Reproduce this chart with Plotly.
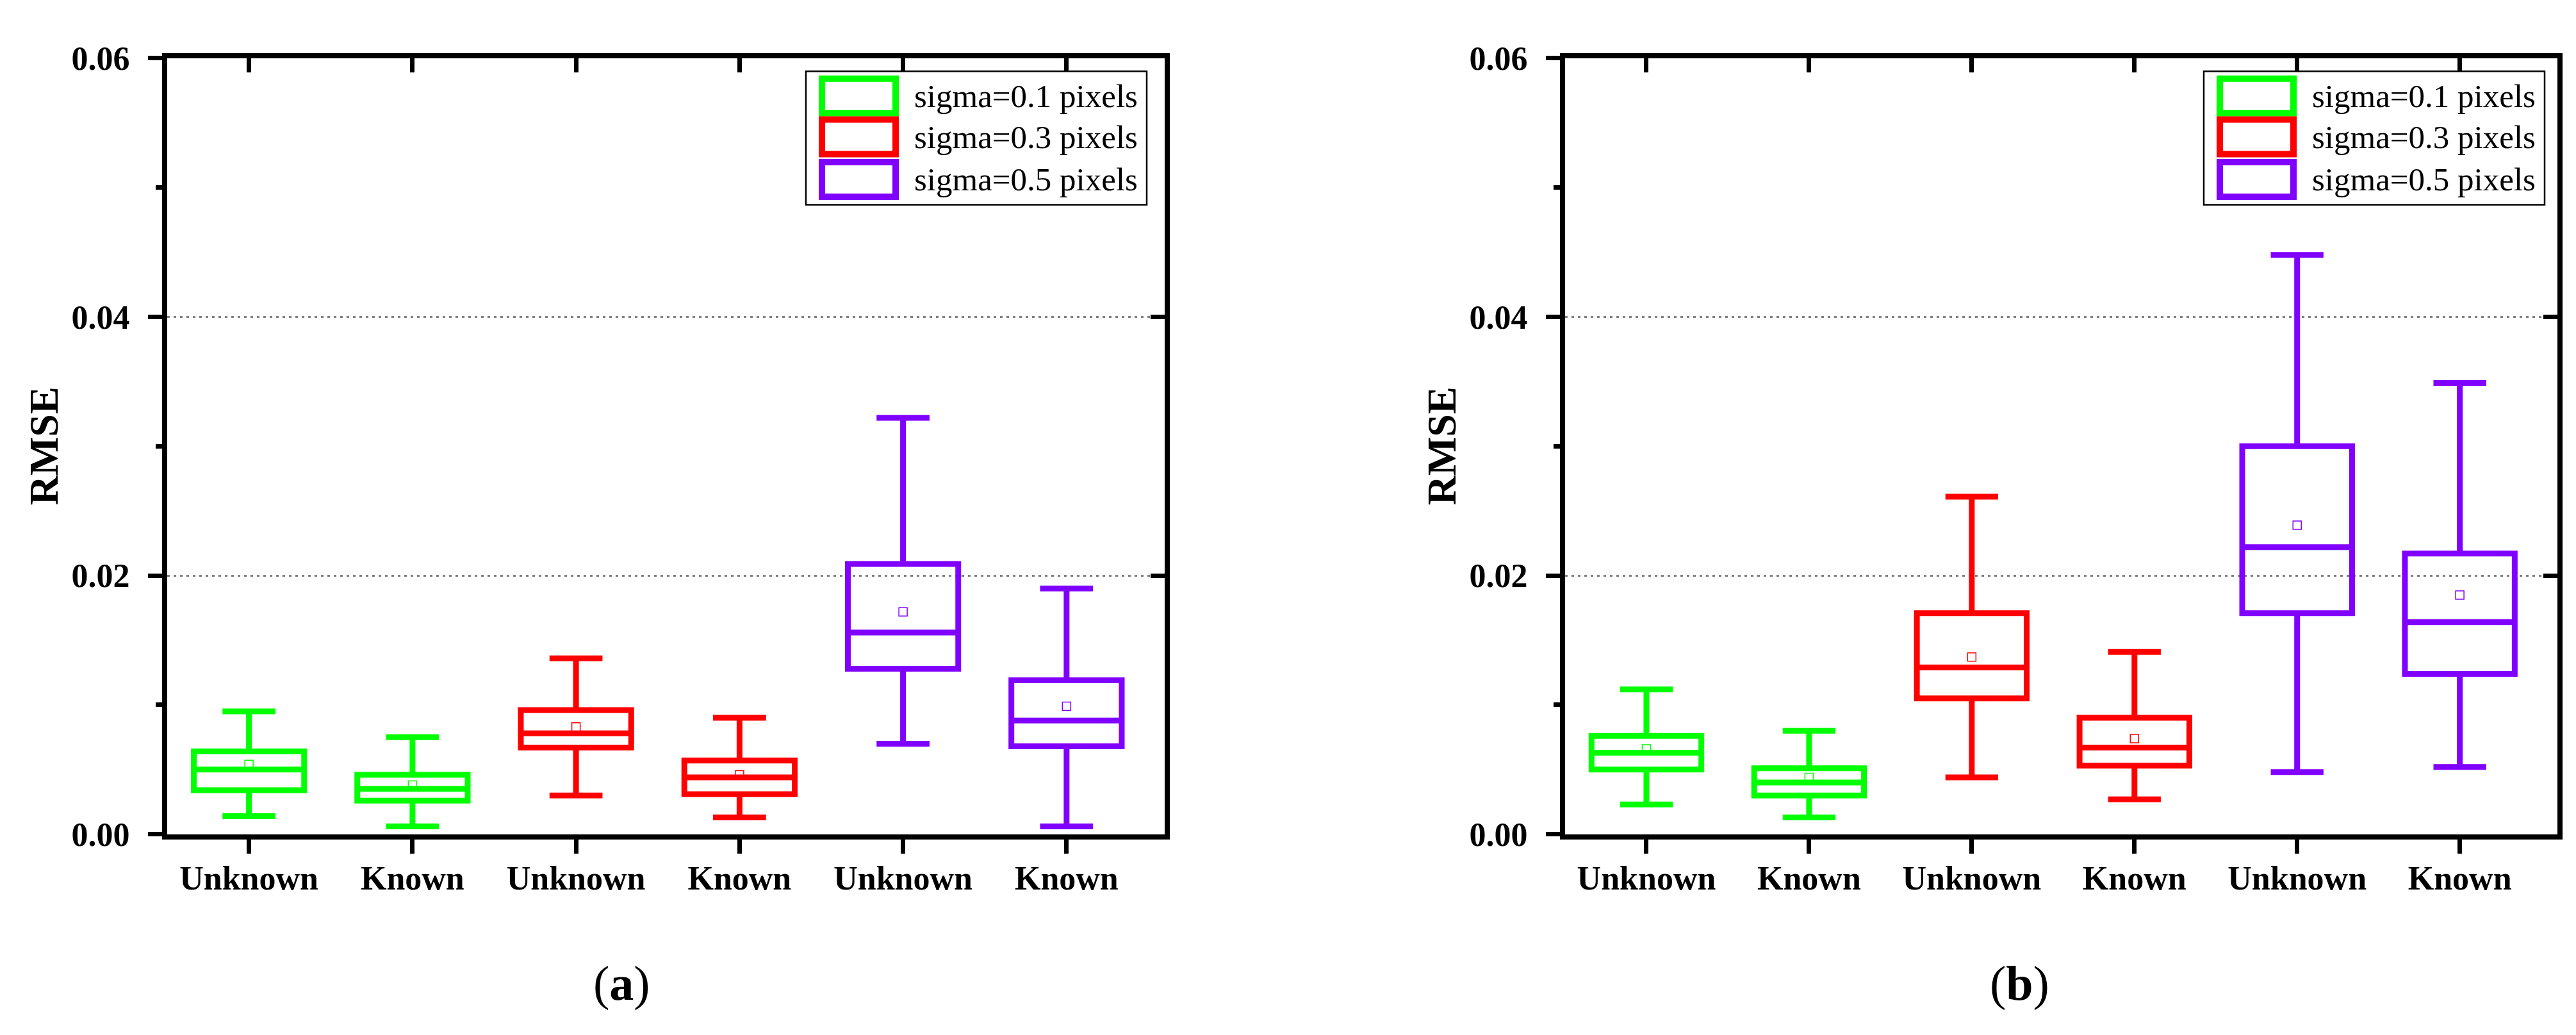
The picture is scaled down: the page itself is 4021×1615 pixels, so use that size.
import plotly.graph_objects as go

# -----------------------------
# data
# -----------------------------
categories = ["Unknown", "Known", "Unknown", "Known", "Unknown", "Known"]
sigma_labels = ["sigma=0.1 pixels", "sigma=0.3 pixels", "sigma=0.5 pixels"]
colors = ["#00FF00", "#FF0000", "#8000FF"]

# panel (a)
a_lower = [0.0014, 0.0006, 0.0030, 0.0013, 0.0070, 0.0006]
a_q1 = [0.0034, 0.0026, 0.0067, 0.0031, 0.0128, 0.0068]
a_median = [0.0050, 0.0035, 0.0078, 0.0044, 0.0156, 0.0088]
a_q3 = [0.0064, 0.0046, 0.0096, 0.0057, 0.0209, 0.0119]
a_upper = [0.0095, 0.0075, 0.0136, 0.0090, 0.0322, 0.0190]
a_mean = [0.0054, 0.0038, 0.0083, 0.0046, 0.0172, 0.0099]

# panel (b)
b_lower = [0.0023, 0.0013, 0.0044, 0.0027, 0.0048, 0.0052]
b_q1 = [0.0050, 0.0030, 0.0105, 0.0053, 0.0171, 0.0124]
b_median = [0.0063, 0.0040, 0.0129, 0.0067, 0.0222, 0.0164]
b_q3 = [0.0076, 0.0051, 0.0171, 0.0090, 0.0300, 0.0217]
b_upper = [0.0112, 0.0080, 0.0261, 0.0141, 0.0448, 0.0349]
b_mean = [0.0066, 0.0044, 0.0137, 0.0074, 0.0239, 0.0185]

y_tickvals = [0.0, 0.02, 0.04, 0.06]
y_ticktext = ["0.00", "0.02", "0.04", "0.06"]
y_minor = [0.01, 0.03, 0.05]
panel_tags = ["a", "b"]

# -----------------------------
# geometry (pixels of the 4021x1615 page)
# -----------------------------
W, H = 4021, 1615
FONT = "Times New Roman, Liberation Serif, serif"


def px(x):
    return x / W


def py(y):
    return 1 - y / H


panels = [
    dict(left=253, right=1810, data=(a_lower, a_q1, a_median, a_q3, a_upper, a_mean),
         ax=("x", "y", "x3", "y3")),
    dict(left=2435, right=3984, data=(b_lower, b_q1, b_median, b_q3, b_upper, b_mean),
         ax=("x2", "y2", "x4", "y4")),
]
TOP, BOTTOM = 57, 1312
xpos = list(range(len(categories)))

fig = go.Figure()
shapes = []
annotations = []

for p, tag in zip(panels, panel_tags):
    lower, q1, med, q3, upper, mean = p["data"]
    xa, ya, xt, yr = p["ax"]
    for g, c in enumerate(colors):
        idx = [2 * g, 2 * g + 1]
        fig.add_trace(go.Box(
            x=[xpos[i] for i in idx],
            q1=[q1[i] for i in idx],
            median=[med[i] for i in idx],
            q3=[q3[i] for i in idx],
            lowerfence=[lower[i] for i in idx],
            upperfence=[upper[i] for i in idx],
            orientation="v", width=0.675, whiskerwidth=0.48,
            line=dict(color=c, width=9), fillcolor="rgba(255,255,255,0)",
            boxpoints=False, showlegend=False, name=sigma_labels[g],
            xaxis=xa, yaxis=ya,
        ))
        fig.add_trace(go.Scatter(
            x=[xpos[i] for i in idx], y=[mean[i] for i in idx], mode="markers",
            marker=dict(symbol="square-open", size=13, color=c, line=dict(width=1.5, color=c)),
            showlegend=False, xaxis=xa, yaxis=ya,
        ))
    # empty traces so the mirrored tick axes get drawn
    fig.add_trace(go.Scatter(x=[], y=[], xaxis=xt, yaxis=ya, showlegend=False))
    fig.add_trace(go.Scatter(x=[], y=[], xaxis=xa, yaxis=yr, showlegend=False))

    xdom = [px(p["left"]), px(p["right"])]
    ydom = [py(BOTTOM), py(TOP)]
    xr = [-0.5, 5.6]
    yrng = [0, 0.06]
    n = xa[1:] or ""
    m = xt[1:]
    fig.layout["xaxis" + n] = dict(
        domain=xdom, range=xr, anchor=ya, tickvals=xpos, ticktext=categories,
        ticks="outside", ticklen=22, tickwidth=7, tickcolor="black",
        showline=True, linewidth=8, linecolor="black", mirror=True,
        showgrid=False, zeroline=False, ticklabelstandoff=-6,
        tickfont=dict(family=FONT, size=52, color="black", weight="bold"),
    )
    fig.layout["yaxis" + n] = dict(
        domain=ydom, range=yrng, anchor=xa, tickvals=y_tickvals, ticktext=y_ticktext,
        ticks="outside", ticklen=22, tickwidth=7, tickcolor="black",
        minor=dict(tickvals=y_minor, ticks="outside", ticklen=10, tickwidth=7,
                   tickcolor="black", showgrid=False),
        showline=True, linewidth=8, linecolor="black", mirror=True,
        showgrid=True, gridcolor="#808080", griddash="4px,6px", gridwidth=3,
        zeroline=False, ticklabelstandoff=18,
        tickfont=dict(family=FONT, size=52, color="black", weight="bold"),
    )
    fig.layout["xaxis" + m] = dict(
        overlaying=xa, side="top", anchor=ya, domain=xdom, range=xr, tickvals=xpos,
        ticks="inside", ticklen=22, tickwidth=7, tickcolor="black",
        showticklabels=False, showline=False, showgrid=False, zeroline=False,
    )
    fig.layout["yaxis" + m] = dict(
        overlaying=ya, side="right", anchor=xa, domain=ydom, range=yrng,
        tickvals=y_tickvals, ticks="inside", ticklen=22, tickwidth=7, tickcolor="black",
        showticklabels=False, showline=False, showgrid=False, zeroline=False,
    )

    # legend drawn by hand to match the large swatches
    off = p["left"] - 253
    shapes.append(dict(type="rect", xref="paper", yref="paper",
                       x0=px(1250 + off), x1=px(1782 + off), y0=py(294), y1=py(78),
                       line=dict(color="black", width=2.5), fillcolor="white", layer="above"))
    for g, c in enumerate(colors):
        yc = [118, 184, 253][g]
        shapes.append(dict(type="rect", xref="paper", yref="paper",
                           x0=px(1275 + off), x1=px(1390 + off), y0=py(yc + 28), y1=py(yc - 28),
                           line=dict(color=c, width=10), layer="above"))
        annotations.append(dict(x=px(1417 + off), y=py(yc), xref="paper", yref="paper",
                                text=sigma_labels[g], showarrow=False, xanchor="left",
                                yanchor="middle",
                                font=dict(family=FONT, size=51, color="black")))

    annotations.append(dict(x=px(p["left"] - 193), y=py((TOP + BOTTOM) / 2),
                            xref="paper", yref="paper", text="<b>RMSE</b>", textangle=-90,
                            showarrow=False, xanchor="center", yanchor="middle",
                            font=dict(family=FONT, size=64, color="black")))
    annotations.append(dict(x=px(p["left"] + 709), y=py(1553), xref="paper", yref="paper",
                            text="(<b>" + tag + "</b>)", showarrow=False,
                            xanchor="center", yanchor="middle",
                            font=dict(family=FONT, size=76, color="black")))

fig.update_layout(
    width=W, height=H, autosize=False,
    margin=dict(l=0, r=0, t=0, b=0),
    paper_bgcolor="white", plot_bgcolor="white",
    showlegend=False,
    shapes=shapes, annotations=annotations,
)

fig.write_html("out.html")
